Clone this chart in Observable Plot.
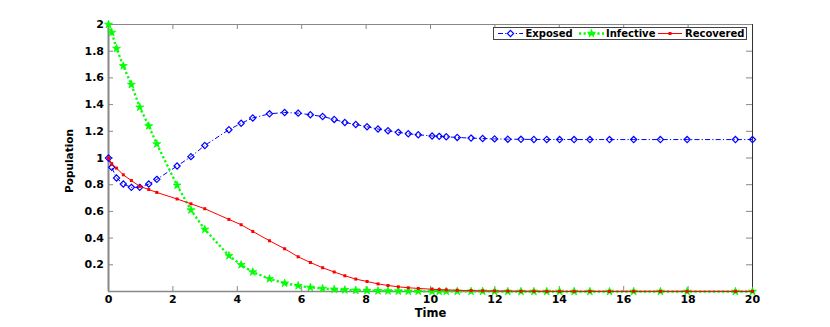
<!DOCTYPE html>
<html><head><meta charset="utf-8">
<script src="https://cdn.jsdelivr.net/npm/d3@7"></script>
<script src="https://cdn.jsdelivr.net/npm/@observablehq/plot@0.6"></script>
<style>body{margin:0;background:#fff}#chart svg{display:block}</style>
</head><body><div id="chart"></div>
<script>
// ---- data ----
const time = [0, 0.1, 0.25, 0.46, 0.71, 0.97, 1.25, 1.5, 2.13, 2.56, 2.99, 3.74, 4.12, 4.48, 5.0, 5.47, 5.89, 6.27, 6.65, 7.01, 7.34, 7.68, 8.03, 8.37, 8.68, 9.0, 9.31, 9.62, 10.05, 10.27, 10.49, 10.83, 11.26, 11.62, 11.99, 12.4, 12.81, 13.21, 13.61, 14.01, 14.46, 14.95, 15.56, 16.31, 17.14, 17.97, 19.47, 20.0];
const exposed = [1.0, 0.93, 0.85, 0.805, 0.78, 0.78, 0.805, 0.84, 0.94, 1.01, 1.094, 1.212, 1.26, 1.30, 1.331, 1.341, 1.336, 1.324, 1.311, 1.289, 1.266, 1.251, 1.234, 1.217, 1.204, 1.192, 1.182, 1.174, 1.165, 1.162, 1.159, 1.154, 1.149, 1.146, 1.143, 1.141, 1.140, 1.139, 1.139, 1.138, 1.138, 1.138, 1.138, 1.138, 1.138, 1.138, 1.138, 1.138];
const infective = [2.0, 1.94, 1.82, 1.69, 1.55, 1.38, 1.24, 1.105, 0.795, 0.61, 0.465, 0.268, 0.20, 0.146, 0.095, 0.062, 0.043, 0.03, 0.022, 0.016, 0.012, 0.009, 0.007, 0.005, 0.004, 0.003, 0.002, 0.002, 0.001, 0.001, 0.001, 0.001, 0.001, 0.001, 0, 0, 0, 0, 0, 0, 0, 0, 0, 0, 0, 0, 0, 0];
const recovered = [1.0, 0.958, 0.924, 0.874, 0.831, 0.788, 0.764, 0.742, 0.693, 0.657, 0.62, 0.54, 0.50, 0.45, 0.38, 0.32, 0.26, 0.217, 0.178, 0.146, 0.118, 0.093, 0.075, 0.057, 0.045, 0.035, 0.028, 0.023, 0.017, 0.014, 0.012, 0.009, 0.007, 0.005, 0.004, 0.003, 0.002, 0.002, 0.001, 0.001, 0.001, 0.001, 0.001, 0.001, 0.001, 0.001, 0.001, 0.001];
const seriesNames = ["Exposed", "Infective", "Recovered"];
const xTicks = [0, 2, 4, 6, 8, 10, 12, 14, 16, 18, 20];
const yTicks = [0.2, 0.4, 0.6, 0.8, 1, 1.2, 1.4, 1.6, 1.8, 2];
const yTickLabels = ["0.2", "0.4", "0.6", "0.8", "1", "1.2", "1.4", "1.6", "1.8", "2"];
const xLabel = "Time";
const yLabel = "Population";

// ---- layout ----
const W = 830, H = 327, mL = 108, mR = 78, mT = 24, mB = 36;
const fw = W - mL - mR, fh = H - mT - mB;
const FONT = "'DejaVu Sans', sans-serif";
const BLUE = "#0000ff", GREEN = "#00ff00", RED = "#ff0000", AX = "#888";
const DASH_E = "5,2.2,1.2,2.2", DASH_I = "2.2,2.4";

const rows = time.map((t, i) => ({t, E: exposed[i], I: infective[i], R: recovered[i]}));
const yt = yTicks.map((v, i) => ({v, label: yTickLabels[i]}));

const plot = Plot.plot({
  width: W, height: H,
  marginLeft: mL, marginRight: mR, marginTop: mT, marginBottom: mB,
  x: {domain: [0, 20], axis: null},
  y: {domain: [0, 2], axis: null},
  style: {fontFamily: FONT, fontWeight: "bold", background: "white", color: "black"},
  marks: [
    // inward ticks (bottom, top, left, right)
    Plot.tickX(xTicks, {x: d => d, stroke: AX, insetTop: fh - 5}),
    Plot.tickX(xTicks, {x: d => d, stroke: AX, insetBottom: fh - 5}),
    Plot.tickY(yTicks, {y: d => d, stroke: AX, insetRight: fw - 5}),
    Plot.tickY(yTicks, {y: d => d, stroke: AX, insetLeft: fw - 6}),
    // frame
    Plot.ruleY([2], {stroke: AX, strokeWidth: 1}),
    Plot.ruleX([20], {stroke: "#333", strokeWidth: 1}),
    Plot.ruleY([0], {stroke: AX, strokeWidth: 1.5}),
    Plot.ruleX([0], {stroke: AX, strokeWidth: 2}),
    // tick labels
    Plot.text(xTicks, {x: d => d, frameAnchor: "bottom", dy: 8, text: d => String(d), fontSize: 11, lineAnchor: "middle", fill: "black"}),
    Plot.text(yt, {y: "v", frameAnchor: "left", dx: -4.5, text: "label", textAnchor: "end", fontSize: 11, lineAnchor: "middle", fill: "black"}),
    // axis titles
    Plot.text([xLabel], {frameAnchor: "bottom", dy: 21.5, text: d => d, fontSize: 11.5, lineAnchor: "middle", fill: "black"}),
    Plot.text([yLabel], {frameAnchor: "left", dx: -39, dy: 3, rotate: -90, text: d => d, fontSize: 10.5, lineAnchor: "middle", textAnchor: "middle", fill: "black"}),
    // series
    Plot.line(rows, {x: "t", y: "E", stroke: BLUE, strokeWidth: 1, strokeDasharray: DASH_E, strokeLinecap: "butt"}),
    Plot.dot(rows, {x: "t", y: "E", symbol: d3.symbolDiamond2, r: 2.8, stroke: BLUE, strokeWidth: 1.2, fill: "none"}),
    Plot.line(rows, {x: "t", y: "I", stroke: GREEN, strokeWidth: 2.3, strokeDasharray: DASH_I, strokeLinecap: "butt"}),
    Plot.dot(rows, {x: "t", y: "I", symbol: d3.symbolStar, r: 2.5, fill: GREEN, stroke: GREEN, strokeWidth: 0.8}),
    Plot.line(rows, {x: "t", y: "R", stroke: RED, strokeWidth: 1}),
    Plot.dot(rows, {x: "t", y: "R", symbol: d3.symbolSquare, r: 1.7, fill: RED, stroke: "none"})
  ]
});
document.getElementById("chart").appendChild(plot);

// ---- legend (top-right, inside the axes) ----
const svg = d3.select(plot);
const lg = svg.append("g").attr("font-family", FONT).attr("font-weight", "bold").attr("font-size", 10).attr("text-anchor", "start");
const bx = 493.5, by = 27.5, bw = 253, bh = 12, cy = by + bh / 2;
lg.append("rect").attr("x", bx).attr("y", by).attr("width", bw).attr("height", bh).attr("fill", "white").attr("stroke", "#444").attr("stroke-width", 1);
const entries = [
  {name: seriesNames[0], x0: 498, x1: 523, tx: 525.5, color: BLUE, dash: DASH_E, lw: 1, sym: d3.symbolDiamond2, r: 2.8, fill: "white", sw: 1.2},
  {name: seriesNames[1], x0: 579, x1: 604, tx: 606, color: GREEN, dash: DASH_I, lw: 2.3, sym: d3.symbolStar, r: 2.5, fill: GREEN, sw: 0.8},
  {name: seriesNames[2], x0: 658, x1: 682, tx: 685, color: RED, dash: null, lw: 1, sym: d3.symbolSquare, r: 1.7, fill: RED, sw: 0}
];
for (const e of entries) {
  lg.append("line").attr("x1", e.x0).attr("x2", e.x1).attr("y1", cy).attr("y2", cy)
    .attr("stroke", e.color).attr("stroke-width", e.lw).attr("stroke-dasharray", e.dash);
  lg.append("path").attr("d", d3.symbol(e.sym, Math.PI * e.r * e.r)())
    .attr("transform", `translate(${(e.x0 + e.x1) / 2},${cy})`)
    .attr("fill", e.fill).attr("stroke", e.sw ? e.color : "none").attr("stroke-width", e.sw);
  lg.append("text").attr("x", e.tx).attr("y", cy).attr("dy", "0.36em").attr("fill", "black").attr("text-anchor", "start").text(e.name);
}
</script>
</body></html>
